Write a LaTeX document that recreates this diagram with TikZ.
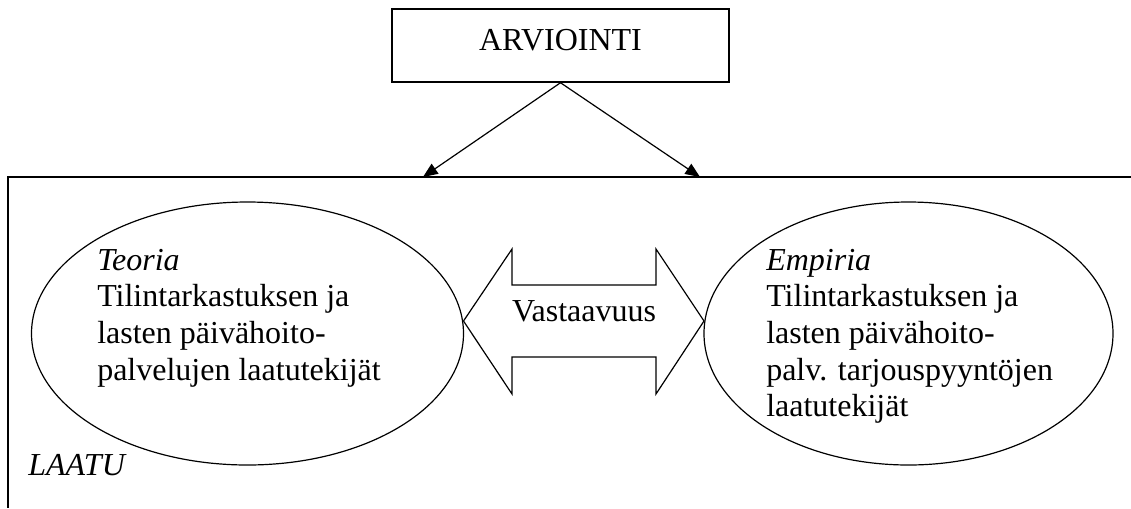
\documentclass[tikz,border=0pt]{standalone}
\usepackage{fontspec}
\setmainfont{Liberation Serif}
\usetikzlibrary{arrows.meta,shapes.geometric}
\begin{document}
\begin{tikzpicture}[x=0.75pt,y=-0.75pt,
  txt/.style={font=\fontsize{24}{27.5}\selectfont, inner sep=0pt},
  topbox/.style={draw, line width=1.1pt, minimum width=252.75pt, minimum height=54.75pt,
    inner sep=0pt, font=\fontsize{24}{27.5}\selectfont, text depth=8.1pt},
  oval/.style={draw, ellipse, line width=0.9pt, inner sep=0pt, minimum height=197.25pt},
  arr/.style={-{Triangle[length=11pt,width=9pt]}, line width=0.9pt},
  frameline/.style={line width=1.1pt},
  bothway/.style={draw, line width=0.9pt, line join=miter}]
\useasboundingbox (0,0) rectangle (1131,508);

% evaluation box and the two arrows down to the quality frame
\node[topbox] (arv) at (560.5,45.5) {ARVIOINTI};
\coordinate (ta) at (423,177);
\coordinate (tb) at (700,177);
\draw[arr] (arv.south) -- (ta);
\draw[arr] (arv.south) -- (tb);

% quality frame, open to the right and bottom
\coordinate (fr) at (1131,177);
\coordinate (fc) at (8,177);
\coordinate (fb) at (8,508);
\draw[frameline] (fr) -- (fc) -- (fb);

% theory and empirical ovals
\node[oval, minimum width=324pt] (teoria) at (247.5,333.5) {};
\node[oval, minimum width=306.75pt] (empiria) at (908.5,333.5) {};

% multi-line nodes: the base anchor sits on the last line
\node[txt, anchor=base west, align=left] (teoriatxt) at (97,380)
  {\textit{Teoria}\\Tilintarkastuksen ja\\lasten päivähoito-\\palvelujen laatutekijät};
\node[txt, anchor=base west, align=left] (empiriatxt) at (766,416.7)
  {\textit{Empiria}\\Tilintarkastuksen ja\\lasten päivähoito-\\palv. tarjouspyyntöjen\\laatutekijät};

% two-headed block arrow between the ovals
\coordinate (lt) at (463.5,321);
\coordinate (rt) at (704,321);
\draw[bothway] (lt) -- (512,249) -- (512,285) -- (656,285) -- (656,249) -- (rt)
  -- (656,394) -- (656,357) -- (512,357) -- (512,394) -- cycle;
\node[txt, anchor=base] (vast) at (584,321) {Vastaavuus};

% frame label
\node[txt, anchor=base west] (laatu) at (28,475) {\textit{LAATU}};
\end{tikzpicture}
\end{document}
